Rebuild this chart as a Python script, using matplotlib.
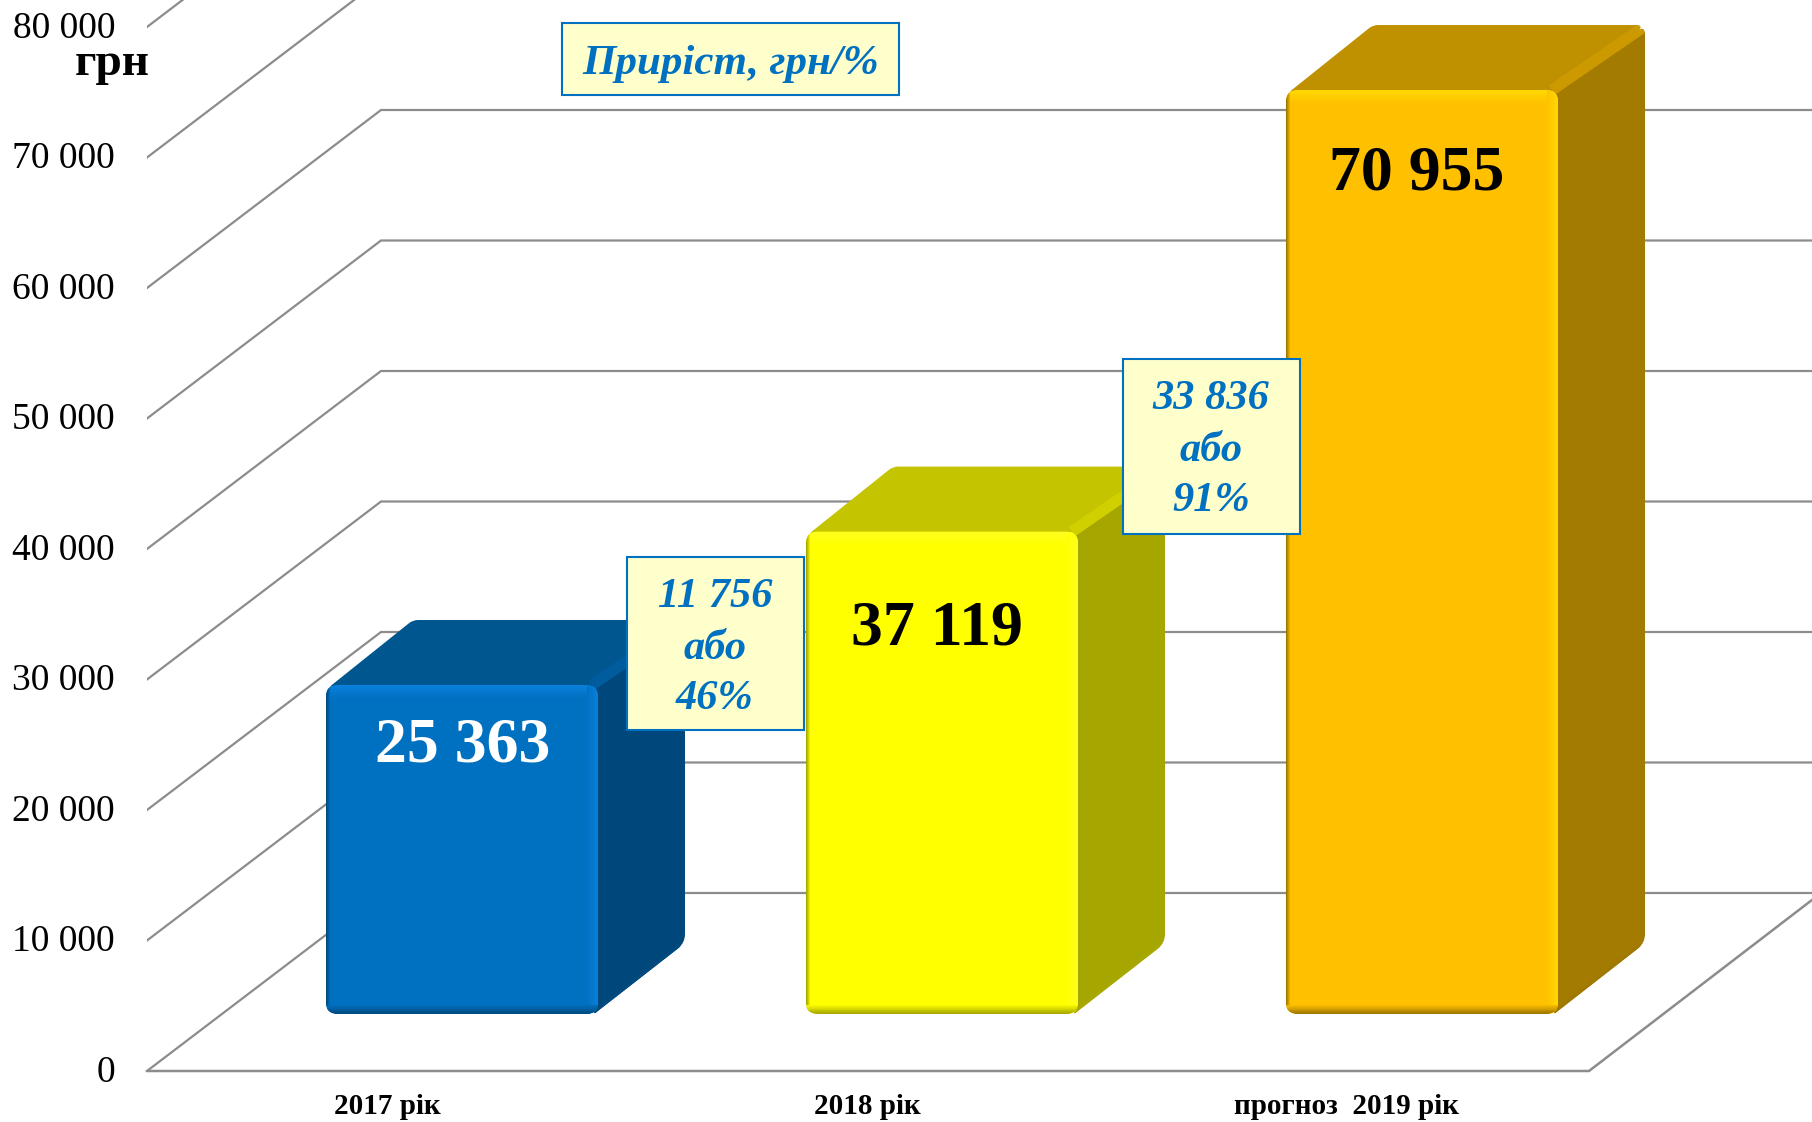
import matplotlib
matplotlib.use("Agg")
import matplotlib.pyplot as plt
from matplotlib.patches import FancyBboxPatch, PathPatch, Rectangle
from matplotlib.path import Path
from matplotlib.colors import to_rgb
from matplotlib.transforms import ScaledTranslation
import numpy as np

plt.rcParams['font.family'] = ['Liberation Serif', 'DejaVu Serif']

# ---- data ----
categories = ["2017 рік", "2018 рік", "прогноз  2019 рік"]
values = [25363, 37119, 70955]
value_labels = ["25 363", "37 119", "70 955"]
value_label_colors = ["white", "black", "black"]
y_ticks = [0, 10000, 20000, 30000, 40000, 50000, 60000, 70000, 80000]
y_tick_labels = ["0", "10 000", "20 000", "30 000", "40 000", "50 000", "60 000", "70 000", "80 000"]
unit_label = "грн"
legend_text = "Приріст, грн/%"
increase_labels = [["11 756", "або", "46%"], ["33 836", "або", "91%"]]

front_colors = ["#0070C0", "#FFFF00", "#FFC000"]
top_colors = ["#00568F", "#C4C400", "#BF9000"]
side_colors = ["#00487C", "#A6A600", "#A37B00"]
hi_colors = ["#0A80DC", "#FFFF20", "#FFD800"]
dark_colors = ["#004A80", "#A8A800", "#A07800"]
ridge_colors = ["#005C9C", "#D0D000", "#CC9900"]

# ---- layout (pixels of the 1812x1122 canvas) ----
W, H = 1812, 1122
Y0 = 1071
PX_PER_10K = 130.5
K = 10000 / PX_PER_10K     # value units per pixel
def val(p):                # pixel row -> value
    return (Y0 - p) * K

AX_L = 147
fig = plt.figure(figsize=(W / 100, H / 100), dpi=100, facecolor="white")
ax = fig.add_axes([AX_L / W, 1 - Y0 / H, (W - AX_L) / W, Y0 / H])
ax.set_xlim(AX_L, W)
ax.set_ylim(0, val(0))
for s in ax.spines.values():
    s.set_visible(False)
ax.patch.set_visible(False)

GRID = "#8C8C8C"
WALL_DX, WALL_DY = 234, 178 * K
FLOOR_R = 1589
for v in y_ticks:
    ax.plot([AX_L, AX_L + WALL_DX, W], [v, v + WALL_DY, v + WALL_DY],
            color=GRID, lw=1.6, zorder=1, clip_on=True, solid_joinstyle="miter")
ax.plot([AX_L, FLOOR_R, W], [0, 0, (W - FLOOR_R) * 0.767 * K], color=GRID, lw=1.8,
        zorder=1, clip_on=False, solid_joinstyle="miter")

ax.set_yticks(y_ticks)
ax.set_yticklabels(y_tick_labels, fontsize=27, color="black")
ax.tick_params(axis="y", length=0, pad=23)
for lab in ax.get_yticklabels():
    lab.set_transform(lab.get_transform() + ScaledTranslation(0, 2.5 / 100, fig.dpi_scale_trans))

label_x = [387, 867, 1347]
ax.set_xticks(label_x)
ax.set_xticklabels(categories, fontsize=21, fontweight="bold", color="black")
ax.tick_params(axis="x", length=0, pad=16)


def rounded(pts, rs):
    """closed path with rounded corners, pts in (px, value)"""
    P = np.array([[x, y / K] for x, y in pts], float)
    n = len(P)
    verts, codes = [], []
    for i in range(n):
        a, b, c = P[i - 1], P[i], P[(i + 1) % n]
        r = rs[i]
        u = (a - b) / np.linalg.norm(a - b)
        w = (c - b) / np.linalg.norm(c - b)
        s, e = b + u * r, b + w * r
        verts.append(s); codes.append(Path.MOVETO if i == 0 else Path.LINETO)
        verts += [b, e]; codes += [Path.CURVE3, Path.CURVE3]
    verts.append(verts[0]); codes.append(Path.CLOSEPOLY)
    V = np.array(verts)
    V[:, 1] *= K
    return Path(V, codes)


def strip(x0, x1, y0_, y1_, c0, c1, clip, horizontal, n=10, z=3):
    c0, c1 = np.array(to_rgb(c0)), np.array(to_rgb(c1))
    for i in range(n):
        t = i / n
        col = c0 * (1 - t) + c1 * t
        if horizontal:
            r = Rectangle((x0, y0_ + (y1_ - y0_) * t), x1 - x0, (y1_ - y0_) / n * 1.3,
                          fc=col, ec="none", zorder=z)
        else:
            r = Rectangle((x0 + (x1 - x0) * t, y0_), (x1 - x0) / n * 1.3, y1_ - y0_,
                          fc=col, ec="none", zorder=z)
        ax.add_patch(r)
        r.set_clip_path(clip)


BAR_W = 272
BAR_LEFT = [326, 806, 1286]
BASE = 57 * K
DX, DY = 87, 65 * K
DY_BOTTOM = 71 * K
TOP_TRIM = 2 * K

for i, v in enumerate(values):
    L, R = BAR_LEFT[i], BAR_LEFT[i] + BAR_W
    B, T = BASE, BASE + v - TOP_TRIM
    z = 3 + i * 0.1
    # top face
    top = PathPatch(rounded([(L + 2, T - 3 * K), (L + DX, T + DY), (R + DX, T + DY), (R, T - 3 * K)], [5, 5, 10, 2]),
                    fc=top_colors[i], ec="none", zorder=z)
    ax.add_patch(top)
    # side face
    side = PathPatch(rounded([(R - 4, T), (R + DX, T + DY), (R + DX, B + DY_BOTTOM), (R - 4, B)], [2, 10, 9, 2]),
                     fc=side_colors[i], ec="none", zorder=z)
    ax.add_patch(side)
    ln, = ax.plot([R - 6, R + DX], [T, T + DY - 1 * K], color=ridge_colors[i], lw=8, zorder=z,
                  solid_capstyle="butt")
    ln.set_clip_path(top)
    ln3, = ax.plot([R - 6, R + DX], [T, T + DY - 1 * K], color=ridge_colors[i], lw=8, zorder=z,
                   solid_capstyle="butt")
    ln3.set_clip_path(side)
    ln2, = ax.plot([R - 4, R + DX - 6], [B + 1 * K, B + DY_BOTTOM - 4 * K], color=dark_colors[i], lw=3, zorder=z)
    ln2.set_clip_path(side)
    # front face
    front = FancyBboxPatch((L, B), BAR_W, T - B, boxstyle="round,pad=0,rounding_size=12",
                           mutation_aspect=K, fc=front_colors[i], ec="none", zorder=z + 0.01)
    ax.add_patch(front)
    zz = z + 0.02
    strip(L, R, T, T - 13 * K, hi_colors[i], front_colors[i], front, True, z=zz)
    strip(R, R - 11, B, T, hi_colors[i], front_colors[i], front, False, z=zz)
    strip(L, L + 4, B, T, dark_colors[i], front_colors[i], front, False, n=4, z=zz)
    strip(L, R, B, B + 9 * K, dark_colors[i], front_colors[i], front, True, z=zz)

# value labels
label_pos = [(463, 746), (937, 629), (1417, 174)]
for (x, p), s, c in zip(label_pos, value_labels, value_label_colors):
    ax.text(x, val(p), s, ha="center", va="center", fontsize=46, fontweight="bold", color=c, zorder=6)

# unit label
ax.text(112, val(64), unit_label, ha="center", va="center", fontsize=34, fontweight="bold",
        color="black", clip_on=False, zorder=6)

BLUE = "#0070C0"
CREAM = "#FFFFCC"
def box(x0, x1, p0, p1):
    ax.add_patch(Rectangle((x0, val(p1)), x1 - x0, val(p0) - val(p1), fc=CREAM, ec=BLUE, lw=1.5, zorder=7))

box(562, 899, 23, 95)
ax.text(731, val(64), legend_text, ha="center", va="center", fontsize=31, fontweight="bold",
        style="italic", color=BLUE, zorder=8)

box(627, 804, 557, 730)
box(1123, 1300, 359, 534)
for cx, rows, lines in [(715, [597, 649, 699], increase_labels[0]), (1211, [399, 451, 501], increase_labels[1])]:
    for p, s in zip(rows, lines):
        ax.text(cx, val(p), s, ha="center", va="center", fontsize=30.5, fontweight="bold",
                style="italic", color=BLUE, zorder=8)

fig.savefig("out.png", dpi=100)
